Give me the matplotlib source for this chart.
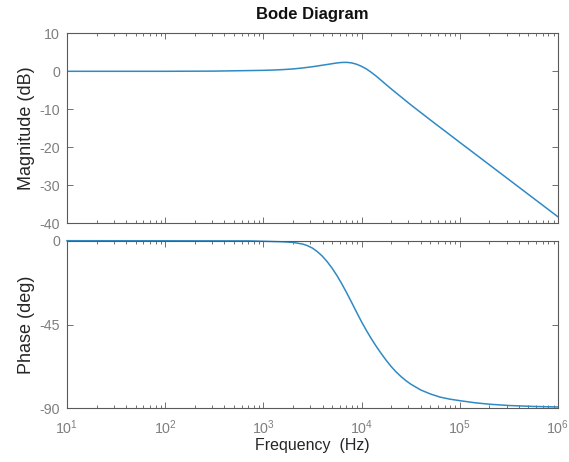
import numpy as np
import matplotlib
matplotlib.use("Agg")
import matplotlib.pyplot as plt
from matplotlib.ticker import LogLocator, FixedLocator, NullFormatter

plt.rcParams['font.family'] = ['Liberation Sans', 'DejaVu Sans']
plt.rcParams['mathtext.fontset'] = 'custom'
plt.rcParams['mathtext.rm'] = 'Liberation Sans'
plt.rcParams['mathtext.it'] = 'Liberation Sans:italic'
plt.rcParams['mathtext.default'] = 'regular'
plt.rcParams['axes.unicode_minus'] = False

# --- data (log10 of frequency in Hz, values) ---
mag_logf = [1.0, 2.0, 2.5, 3.0, 3.1, 3.2, 3.3, 3.4, 3.5, 3.6, 3.7, 3.75,
            3.8, 3.85, 3.9, 3.95, 4.0, 4.05, 4.1, 4.15, 4.2, 4.25, 4.3,
            4.4, 4.5, 4.7, 5.0, 5.5, 6.0]
mag_db = [0.0, 0.0, 0.05, 0.25, 0.33, 0.45, 0.62, 0.88, 1.2, 1.6, 2.0, 2.2,
          2.33, 2.35, 2.2, 1.85, 1.3, 0.6, -0.3, -1.3, -2.4, -3.5, -4.6,
          -6.7, -8.8, -12.8, -18.7, -28.5, -38.3]

ph_logf = [1.0, 2.0, 2.86, 3.0, 3.2, 3.3, 3.4, 3.45, 3.5, 3.55, 3.6, 3.65,
           3.7, 3.75, 3.8, 3.85, 3.9, 3.95, 4.0, 4.05, 4.1, 4.15, 4.2,
           4.25, 4.3, 4.35, 4.4, 4.45, 4.5, 4.6, 4.7, 4.8, 4.9, 5.0, 5.15,
           5.3, 5.5, 5.75, 6.0]
ph_deg = [0.0, -0.05, -0.1, -0.3, -0.6, -0.9, -1.8, -2.7, -4.0, -5.9, -8.3,
          -11.3, -14.8, -18.8, -23.3, -28.2, -33.3, -38.5, -43.6, -48.3,
          -52.7, -56.8, -60.6, -64.2, -67.5, -70.4, -72.9, -75.1, -77.0,
          -80.1, -82.3, -84.0, -85.1, -85.9, -87.0, -87.8, -88.5, -89.0, -89.3]

mag_ticks = [10, 0, -10, -20, -30, -40]
ph_ticks = [0, -45, -90]
title = "Bode Diagram"
xlabel = "Frequency  (Hz)"
ylabel_mag = "Magnitude (dB)"
ylabel_ph = "Phase (deg)"

mag_f = [10 ** v for v in mag_logf]
ph_f = [10 ** v for v in ph_logf]

W, H = 569, 462
fig = plt.figure(figsize=(W / 100, H / 100), dpi=100)
fig.patch.set_facecolor('white')

L, R = 67, 558
ax1 = fig.add_axes([L / W, 1 - 223.3 / H, (R - L) / W, (223.3 - 33.3) / H])
ax2 = fig.add_axes([L / W, 1 - 408.3 / H, (R - L) / W, (408.3 - 240.7) / H])

line_c = '#2f8ac4'
spine_c = '#5a5a5a'
tick_c = '#7f7f7f'
label_c = '#262626'

ax1.plot(mag_f, mag_db, color=line_c, lw=1.1, solid_joinstyle='round')
ax2.plot(ph_f, ph_deg, color=line_c, lw=1.1, clip_on=False, solid_joinstyle='round')

for ax in (ax1, ax2):
    ax.set_xscale('log')
    ax.set_xlim(10, 1e6)
    ax.xaxis.set_major_locator(LogLocator(base=10, numticks=10))
    ax.xaxis.set_minor_locator(LogLocator(base=10, subs=np.arange(2, 10), numticks=20))
    ax.xaxis.set_minor_formatter(NullFormatter())
    ax.tick_params(which='both', direction='in', top=True, right=True,
                   colors=spine_c, labelcolor=tick_c, labelsize=10.3, width=0.6)
    ax.tick_params(which='major', length=4.5)
    ax.tick_params(which='minor', length=2.5)
    ax.tick_params(axis='y', pad=5)
    ax.tick_params(axis='x', pad=7)
    for s in ax.spines.values():
        s.set_color(spine_c)
        s.set_linewidth(0.8)

ax1.set_ylim(-40, 10)
ax1.yaxis.set_major_locator(FixedLocator(mag_ticks))
ax1.tick_params(which='both', labelbottom=False)
ax1.set_ylabel(ylabel_mag, color=label_c, fontsize=13, labelpad=3)
ax1.set_title(title, fontsize=12, fontweight='bold', color='#111111', pad=10)

ax2.set_ylim(-90, 0)
ax2.yaxis.set_major_locator(FixedLocator(ph_ticks))
ax2.set_ylabel(ylabel_ph, color=label_c, fontsize=13, labelpad=3)
ax2.set_xlabel(xlabel, color=label_c, fontsize=11.5, labelpad=1)

fig.savefig('out.png', dpi=100, facecolor='white')
